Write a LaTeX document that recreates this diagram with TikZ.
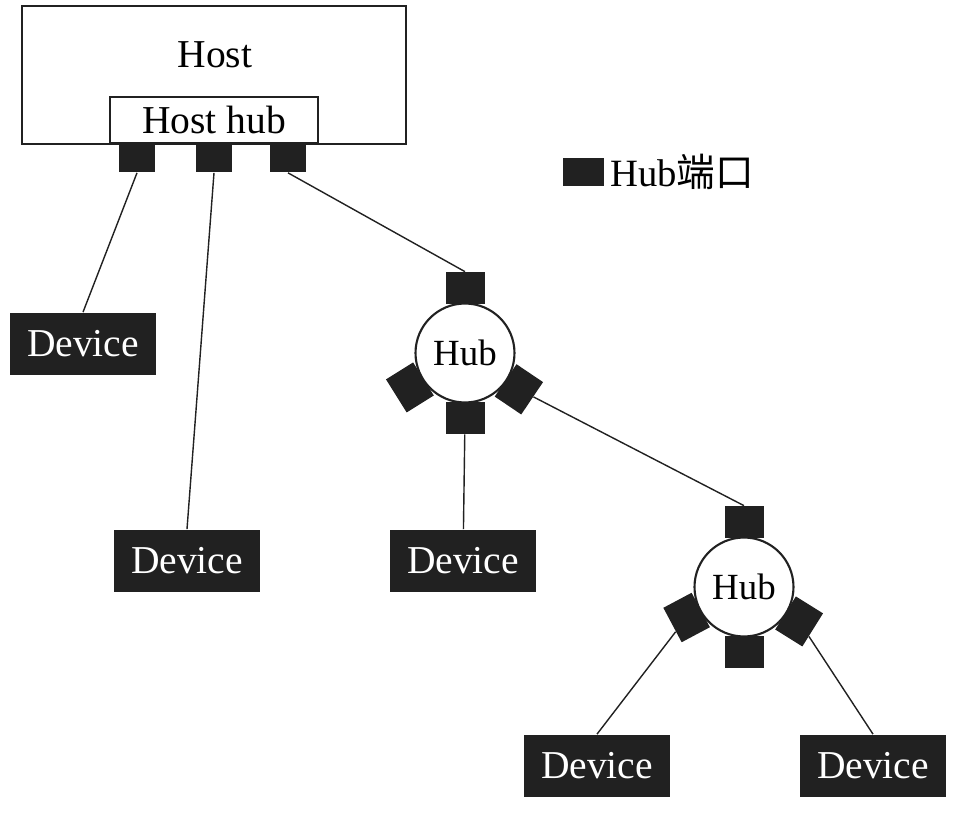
\documentclass[tikz,border=0pt]{standalone}
\usepackage{fontspec}
\setmainfont{Liberation Serif}
\newfontfamily\cjk{Noto Sans CJK SC}
\usepackage{tikz}
\usepackage{xcolor}
\definecolor{ink}{gray}{0.13}
\tikzset{
    host-box/.style = {draw=ink, line width=1.5pt, rectangle, inner sep=0pt, font=\fontsize{22.5}{25}\selectfont},
    device-box/.style = {fill=ink, text=white, rectangle, minimum width=2.94cm, minimum height=1.26cm, inner sep=0pt, font=\fontsize{22.5}{25}\selectfont},
    port-box/.style = {fill=ink, rectangle, minimum width=0.78cm, minimum height=0.64cm, inner sep=0pt},
    hub-circle/.style = {draw=ink, fill=white, line width=1.2pt, circle, minimum size=1.98cm, inner sep=0pt, font=\fontsize{21}{24}\selectfont},
    link/.style = {draw=ink, line width=0.8pt},
}

\begin{document}
\begin{tikzpicture}[x=0.02cm, y=-0.02cm]
\useasboundingbox (0,0) rectangle (954,831);
\node[host-box, minimum width=7.68cm, minimum height=2.76cm] (host) at (214,75) {};
\node[font=\fontsize{22.5}{25}\selectfont] (host-label) at (215,55) {Host};
\node[host-box, fill=white, minimum width=4.16cm, minimum height=0.92cm] (host-hub) at (214,120) {Host hub};
\foreach \x [count=\i] in {137,214,288}
    \node[port-box, minimum width=0.74cm, minimum height=0.58cm] (port-\i) at (\x,158) {};

\node[hub-circle] (hub-a) at (465,353) {Hub};
\foreach \a/\n in {90/t, 212/l, 326/r, 270/b}
    \node[port-box, rotate=\a-90] (hub-a-\n) at ([shift={(\a:1.3cm)}]hub-a) {};
\node[hub-circle] (hub-b) at (744,587) {Hub};
\foreach \a/\n in {90/t, 208/l, 328/r, 270/b}
    \node[port-box, rotate=\a-90] (hub-b-\n) at ([shift={(\a:1.3cm)}]hub-b) {};

\node[device-box] (dev-a) at (83,344) {Device};
\node[device-box] (dev-b) at (187,561) {Device};
\node[device-box] (dev-c) at (463,561) {Device};
\node[device-box] (dev-d) at (597,766) {Device};
\node[device-box] (dev-e) at (873,766) {Device};

\draw[link] (port-1.south) -- (dev-a.north);
\draw[link] (port-2.south) -- (dev-b.north);
\draw[link] (port-3.south) -- (hub-a-t.north);
\draw[link] (hub-a-r) -- (hub-b-t.north);
\draw[link] (hub-a-b) -- (dev-c);
\draw[link] (hub-b-l) -- (dev-d.north);
\draw[link] (hub-b-r) -- (dev-e.north);

\node[port-box, minimum width=0.82cm, minimum height=0.58cm] (legend-port) at (583,172) {};
\node[anchor=west, inner sep=0pt, font=\fontsize{22}{25}\selectfont] (legend-text) at (610,172) {Hub{\cjk 端口}};
\end{tikzpicture}
\end{document}
